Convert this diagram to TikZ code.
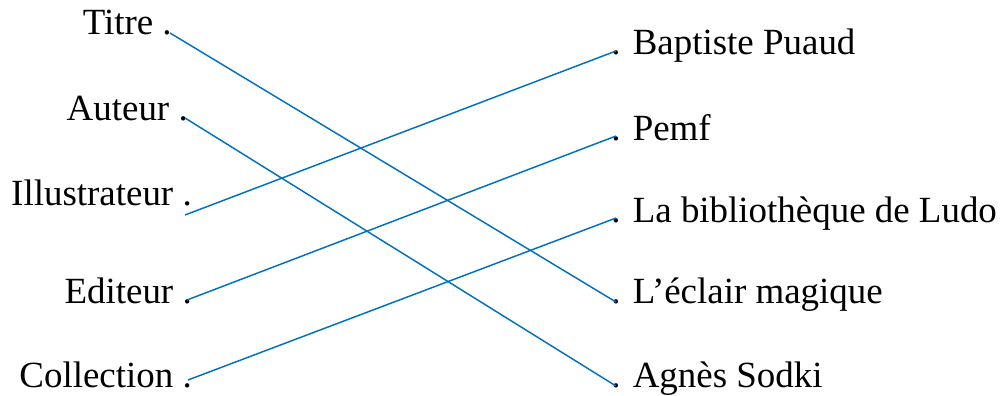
\documentclass[tikz,border=0pt]{standalone}
\usepackage{fontspec}
\setmainfont{Liberation Serif}
\definecolor{lienbleu}{RGB}{0,112,192}
\tikzset{
  gauche/.style={anchor=base east,inner sep=0pt,font=\fontsize{27.7}{33}\selectfont},
  droite/.style={anchor=base west,inner sep=0pt,font=\fontsize{27.7}{33}\selectfont},
  lien/.style={lienbleu,line width=1.1pt}
}
\begin{document}
\begin{tikzpicture}[x=0.75pt,y=-0.75pt]
    \useasboundingbox (0,0) rectangle (1001,396);

    \node[gauche] (titre) at (172,35) {Titre .};
    \node[gauche] (auteur) at (188,120) {Auteur .};
    \node[gauche] (illus) at (192,205) {Illustrateur .};
    \node[gauche] (editeur) at (192,303) {Editeur .};
    \node[gauche] (collec) at (192,387) {Collection .};

    \node[droite] (puaud) at (611,55) {. Baptiste Puaud};
    \node[droite] (pemf) at (611,140) {. Pemf};
    \node[droite] (biblio) at (611,222) {. La bibliothèque de Ludo};
    \node[droite] (eclair) at (611,303) {. L’éclair magique};
    \node[droite] (sodki) at (611,387) {. Agnès Sodki};

    \coordinate (titre-p) at (170,33);
    \coordinate (auteur-p) at (185,118);
    \coordinate (illus-p) at (185,215);
    \coordinate (editeur-p) at (187,300);
    \coordinate (collec-p) at (188,380);
    \coordinate (puaud-p) at (616,51);
    \coordinate (pemf-p) at (616,136);
    \coordinate (biblio-p) at (616,218);
    \coordinate (eclair-p) at (616,302);
    \coordinate (sodki-p) at (616,386);

    \draw[lien] (titre-p) -- (eclair-p);
    \draw[lien] (auteur-p) -- (sodki-p);
    \draw[lien] (illus-p) -- (puaud-p);
    \draw[lien] (editeur-p) -- (pemf-p);
    \draw[lien] (collec-p) -- (biblio-p);
  \end{tikzpicture}
\end{document}
